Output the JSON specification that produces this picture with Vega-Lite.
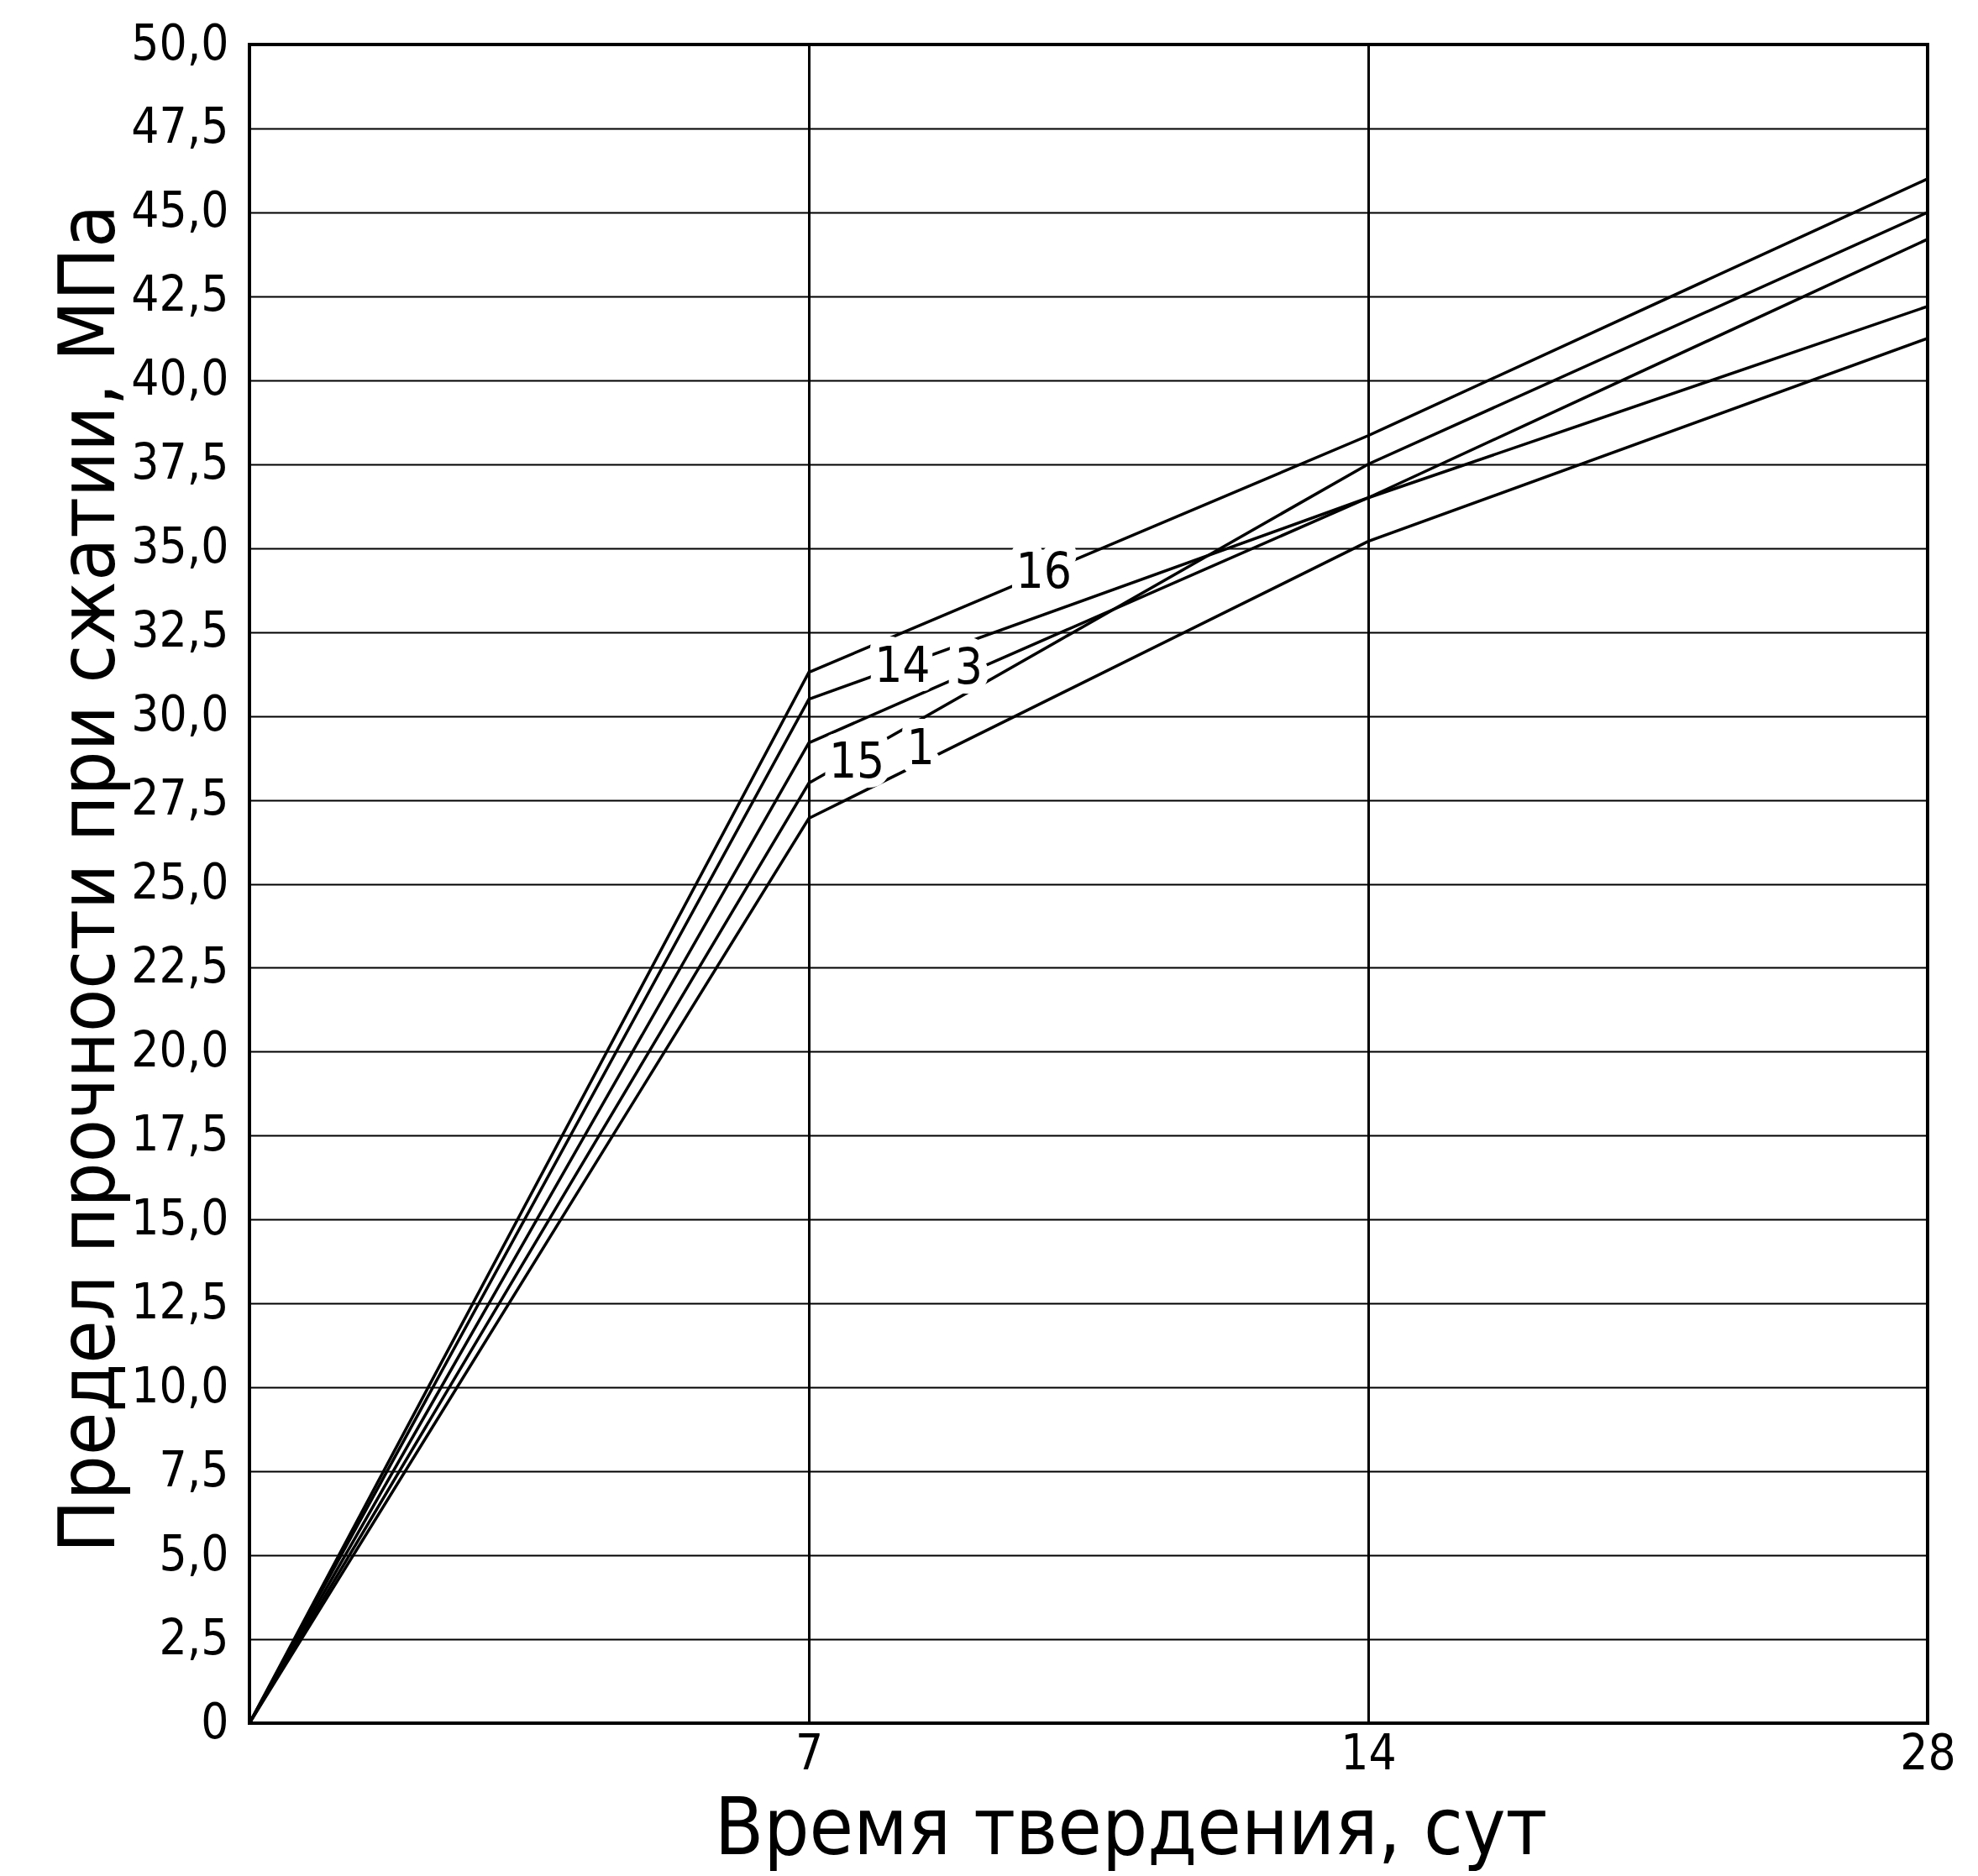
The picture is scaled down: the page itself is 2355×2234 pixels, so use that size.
{
  "$schema": "https://vega.github.io/schema/vega-lite/v6.json",
  "width": 1998,
  "height": 1999,
  "autosize": {"type": "none"},
  "padding": {"left": 297, "top": 53, "right": 60, "bottom": 182},
  "background": "white",
  "config": {
    "view": {"stroke": "black", "strokeWidth": 4},
    "font": "DejaVu Sans Condensed, DejaVu Sans"
  },
  "datasets": {
    "curves": [
      {"series": "16", "day": 0, "value": 0},
      {"series": "16", "day": 7, "value": 31.3},
      {"series": "16", "day": 14, "value": 38.35},
      {"series": "16", "day": 28, "value": 46.0},
      {"series": "14", "day": 0, "value": 0},
      {"series": "14", "day": 7, "value": 30.5},
      {"series": "14", "day": 14, "value": 36.5},
      {"series": "14", "day": 28, "value": 42.2},
      {"series": "3", "day": 0, "value": 0},
      {"series": "3", "day": 7, "value": 29.2},
      {"series": "3", "day": 14, "value": 36.5},
      {"series": "3", "day": 28, "value": 44.2},
      {"series": "15", "day": 0, "value": 0},
      {"series": "15", "day": 7, "value": 28.0},
      {"series": "15", "day": 14, "value": 37.5},
      {"series": "15", "day": 28, "value": 45.0},
      {"series": "1", "day": 0, "value": 0},
      {"series": "1", "day": 7, "value": 26.95},
      {"series": "1", "day": 14, "value": 35.2},
      {"series": "1", "day": 28, "value": 41.25}
    ],
    "labels": [
      {"label": "16", "day": 9.94, "value": 34.25},
      {"label": "14", "day": 8.17, "value": 31.45},
      {"label": "3", "day": 9.0, "value": 31.4},
      {"label": "15", "day": 7.6, "value": 28.6},
      {"label": "1", "day": 8.4, "value": 28.98}
    ]
  },
  "encoding": {
    "x": {
      "field": "day",
      "type": "quantitative",
      "scale": {"domain": [0, 7, 14, 28], "range": [0, 666, 1332, 1998], "nice": false, "zero": false},
      "axis": {
        "title": "Время твердения, сут",
        "values": [7, 14, 28],
        "labelFlush": false,
        "labelFontSize": 58,
        "labelColor": "black",
        "labelPadding": 8,
        "ticks": false,
        "domain": false,
        "grid": true,
        "gridColor": "black",
        "gridWidth": 3,
        "gridOpacity": 1,
        "titleFontSize": 95,
        "titleFontWeight": "normal",
        "titleColor": "black",
        "titleX": 1049,
        "titleY": 155,
        "titleAlign": "center",
        "titleBaseline": "alphabetic"
      }
    },
    "y": {
      "field": "value",
      "type": "quantitative",
      "scale": {"domain": [0, 50], "nice": false},
      "axis": {
        "title": "Предел прочности при сжатии, МПа",
        "values": [0, 2.5, 5, 7.5, 10, 12.5, 15, 17.5, 20, 22.5, 25, 27.5, 30, 32.5, 35, 37.5, 40, 42.5, 45, 47.5, 50],
        "labelExpr": "datum.value == 0 ? '0' : replace(format(datum.value, '.1f'), '.', ',')",
        "labelFontSize": 58,
        "labelColor": "black",
        "labelPadding": 25,
        "ticks": false,
        "domain": false,
        "grid": true,
        "gridColor": "black",
        "gridWidth": 2,
        "gridOpacity": 1,
        "titleFontSize": 93,
        "titleFontWeight": "normal",
        "titleColor": "black",
        "titleAngle": 270,
        "titleX": -162,
        "titleY": 993,
        "titleAlign": "center",
        "titleBaseline": "alphabetic"
      }
    }
  },
  "layer": [
    {
      "data": {"name": "curves"},
      "mark": {"type": "line", "color": "black", "strokeWidth": 3.5},
      "encoding": {"detail": {"field": "series", "type": "nominal"}}
    },
    {
      "data": {"name": "labels"},
      "mark": {"type": "text", "fontSize": 58, "fill": "white", "stroke": "white", "strokeWidth": 22, "strokeJoin": "round", "align": "center", "baseline": "middle"},
      "encoding": {"text": {"field": "label"}}
    },
    {
      "data": {"name": "labels"},
      "mark": {"type": "text", "fontSize": 58, "color": "black", "align": "center", "baseline": "middle"},
      "encoding": {"text": {"field": "label"}}
    }
  ]
}
